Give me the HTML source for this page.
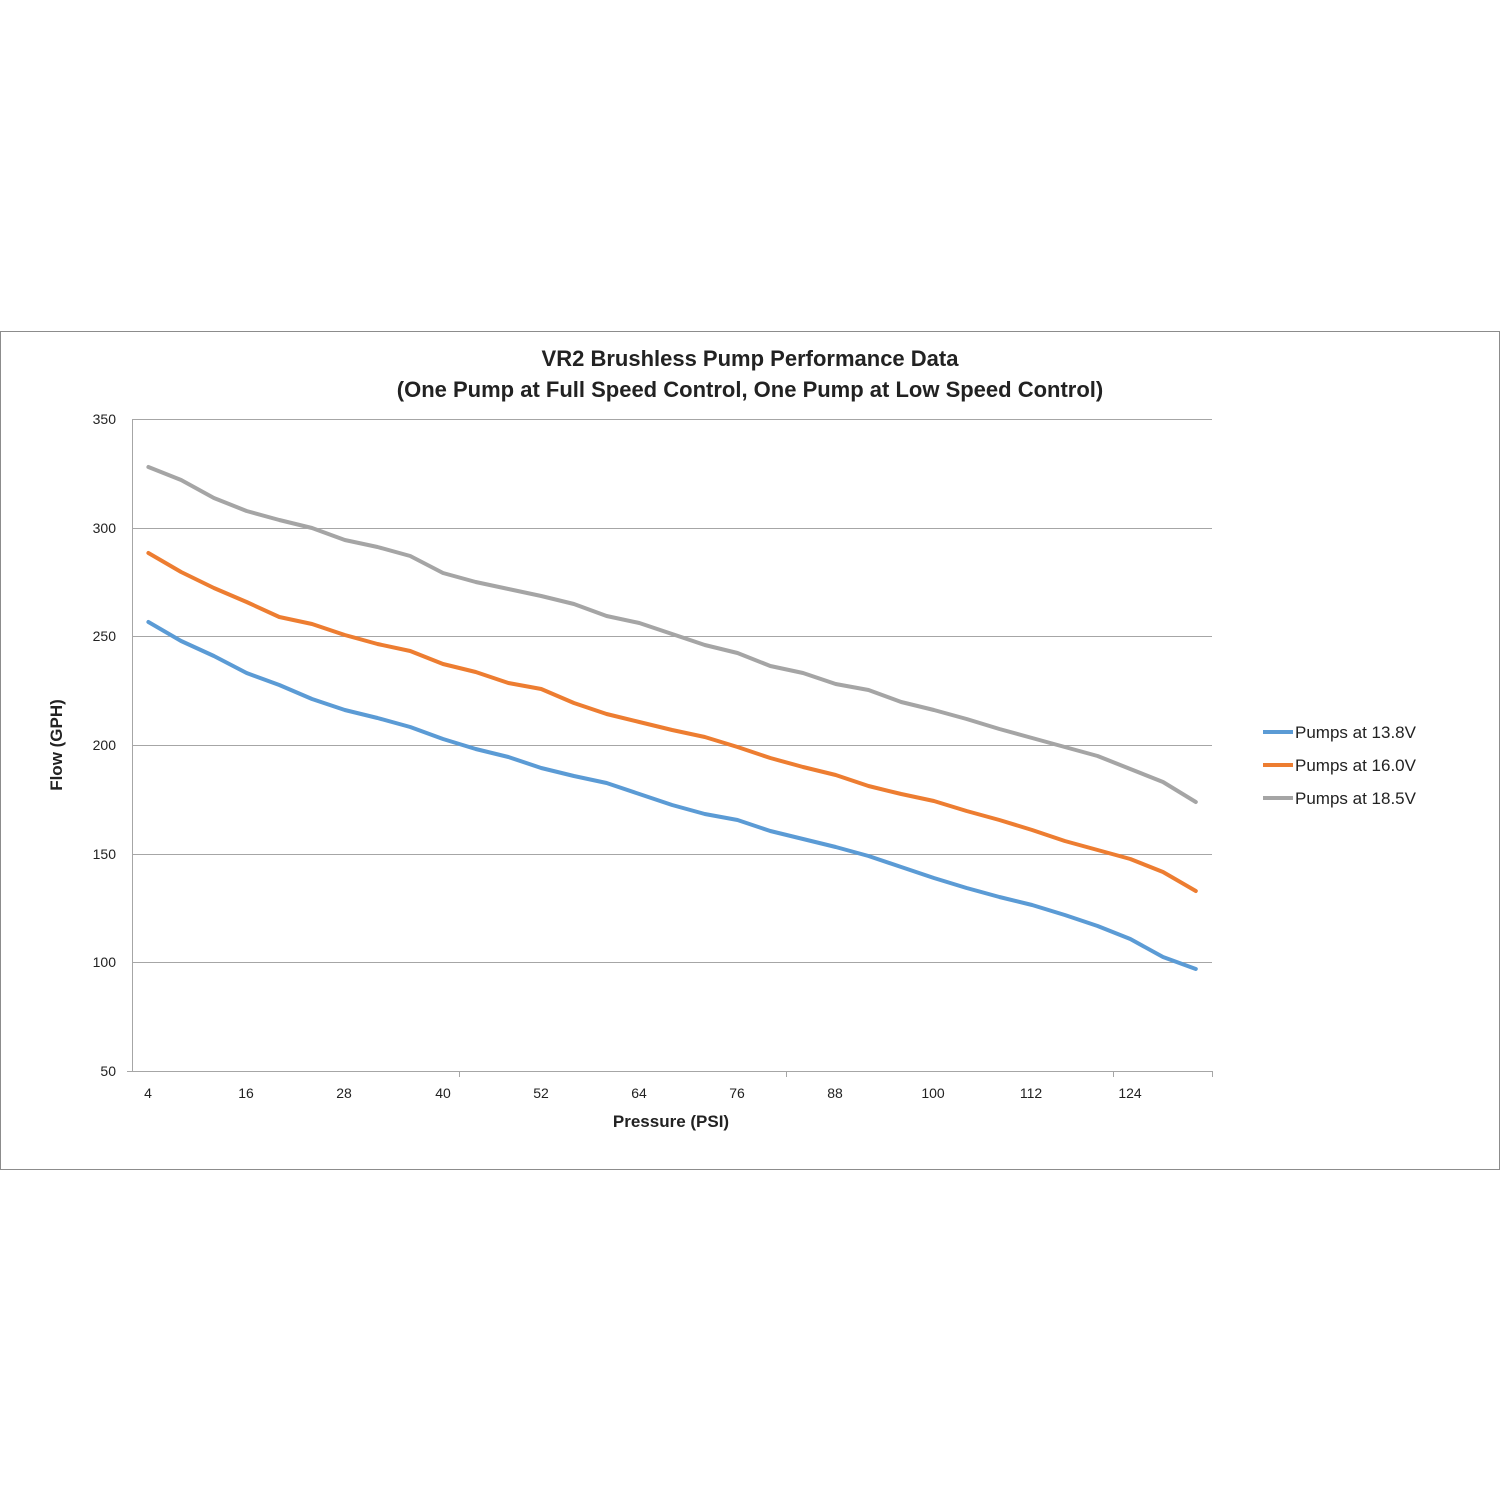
<!DOCTYPE html>
<html><head><meta charset="utf-8"><style>
html,body{margin:0;padding:0;background:#fff;}
svg{display:block;font-family:"Liberation Sans",sans-serif;}
</style></head><body>
<svg id="s" width="1500" height="1500" viewBox="0 0 1500 1500" xmlns="http://www.w3.org/2000/svg">
<rect x="0.5" y="331.5" width="1499" height="838" fill="#fff" stroke="#8c8c8c" stroke-width="1"/>
<text x="750" y="366" text-anchor="middle" font-size="22" font-weight="bold" fill="#222">VR2 Brushless Pump Performance Data</text>
<text x="750" y="397" text-anchor="middle" font-size="22" font-weight="bold" fill="#222">(One Pump at Full Speed Control, One Pump at Low Speed Control)</text>
<g stroke="#a6a6a6" stroke-width="1">
<line x1="132" y1="419.5" x2="1212" y2="419.5"/>
<line x1="132" y1="528.5" x2="1212" y2="528.5"/>
<line x1="132" y1="636.5" x2="1212" y2="636.5"/>
<line x1="132" y1="745.5" x2="1212" y2="745.5"/>
<line x1="132" y1="854.5" x2="1212" y2="854.5"/>
<line x1="132" y1="962.5" x2="1212" y2="962.5"/>
<line x1="127" y1="1071.5" x2="1212" y2="1071.5"/>
<line x1="132.5" y1="419" x2="132.5" y2="1071"/>
<line x1="459.5" y1="1071" x2="459.5" y2="1077"/>
<line x1="786.5" y1="1071" x2="786.5" y2="1077"/>
<line x1="1113.5" y1="1071" x2="1113.5" y2="1077"/>
<line x1="1212.5" y1="1071" x2="1212.5" y2="1077"/>
</g>
<g font-size="14" fill="#222" text-anchor="end">
<text x="116" y="424">350</text><text x="116" y="533">300</text><text x="116" y="641">250</text>
<text x="116" y="750">200</text><text x="116" y="859">150</text><text x="116" y="967">100</text><text x="116" y="1076">50</text>
</g>
<g font-size="14" fill="#222" text-anchor="middle">
<text x="148" y="1098">4</text><text x="246" y="1098">16</text><text x="344" y="1098">28</text>
<text x="443" y="1098">40</text><text x="541" y="1098">52</text><text x="639" y="1098">64</text>
<text x="737" y="1098">76</text><text x="835" y="1098">88</text><text x="933" y="1098">100</text>
<text x="1031" y="1098">112</text><text x="1130" y="1098">124</text>
</g>
<text x="671" y="1127" text-anchor="middle" font-size="17" font-weight="bold" fill="#222">Pressure (PSI)</text>
<text transform="translate(62,745) rotate(-90)" text-anchor="middle" font-size="17" font-weight="bold" fill="#222">Flow (GPH)</text>
<g id="lines" fill="none" stroke-width="4" stroke-linejoin="round" stroke-linecap="round"></g>
<g stroke-width="4">
<line x1="1263" y1="732" x2="1293" y2="732" stroke="#5b9bd5"/>
<line x1="1263" y1="765" x2="1293" y2="765" stroke="#ed7d31"/>
<line x1="1263" y1="798" x2="1293" y2="798" stroke="#a5a5a5"/>
</g>
<g font-size="17" fill="#222">
<text x="1295" y="738">Pumps at 13.8V</text>
<text x="1295" y="771">Pumps at 16.0V</text>
<text x="1295" y="804">Pumps at 18.5V</text>
</g>
</svg>
<script>
var d={
"#5b9bd5":[622,641,656,673,685,699,710,718,727,739,749,757,768,776,783,794,805,814,820,831,839,847,856,867,878,888,897,905,915,926,939,957,969],
"#ed7d31":[553,572,588,602,617,624,635,644,651,664,672,683,689,703,714,722,730,737,747,758,767,775,786,794,801,811,820,830,841,850,859,872,891],
"#a5a5a5":[467,480,498,511,520,528,540,547,556,573,582,589,596,604,616,623,634,645,653,666,673,684,690,702,710,719,729,738,747,756,769,782,802]};
var g=document.getElementById("lines");
["#a5a5a5","#ed7d31","#5b9bd5"].forEach(function(c){
var p=d[c].map(function(y,i){return (148.4+i*32.73).toFixed(1)+","+y;}).join(" ");
var e=document.createElementNS("http://www.w3.org/2000/svg","polyline");
e.setAttribute("points",p);e.setAttribute("stroke",c);g.appendChild(e);});
</script>
</body></html>
